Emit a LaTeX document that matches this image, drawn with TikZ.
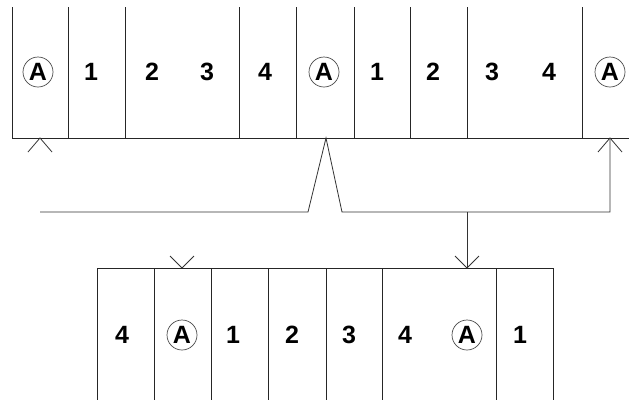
\documentclass[tikz,border=0pt]{standalone}
\usepackage{fontspec}
\setmainfont{Liberation Sans}
\newfontfamily\labfont{Liberation Sans Bold}
\usetikzlibrary{calc}
\begin{document}
\begin{tikzpicture}[x=1pt,y=-1pt,
  wall/.style={draw=black!85,line width=0.8pt},
  lab/.style={font=\labfont\fontsize{25}{25}\selectfont,inner sep=0pt,anchor=center},
  circA/.style={lab,circle,draw=black!70,line width=0.7pt,minimum size=30pt},
  conn/.style={draw=black!80,line width=0.8pt},
  chev/.style={draw=black!80,line width=0.8pt}]
\useasboundingbox (0,0) rectangle (629,400);
\fill[white] (0,0) rectangle (629,400);
% top row
\foreach \x in {12,68,125,239,296,354,410,467,582} \draw[wall] (\x,7) -- (\x,138);
\draw[wall] (12,138) -- (629,138);
\node[circA] (tA1) at (38,72) {A};
\node[lab] (t1a) at (91,72) {1};
\node[lab] (t2a) at (152,72) {2};
\node[lab] (t3a) at (207,72) {3};
\node[lab] (t4a) at (265,72) {4};
\node[circA] (tA2) at (324,72) {A};
\node[lab] (t1b) at (377,72) {1};
\node[lab] (t2b) at (433,72) {2};
\node[lab] (t3b) at (492,72) {3};
\node[lab] (t4b) at (549,72) {4};
\node[circA] (tA3) at (610,72) {A};
% bottom row
\foreach \x in {97,154,211,268,326,382,496,553} \draw[wall] (\x,268) -- (\x,400);
\draw[wall] (97,268) -- (553,268);
\node[lab] (b4a) at (122,335) {4};
\node[circA] (bA1) at (182,335) {A};
\node[lab] (b1a) at (233,335) {1};
\node[lab] (b2a) at (292,335) {2};
\node[lab] (b3a) at (349,335) {3};
\node[lab] (b4b) at (405,335) {4};
\node[circA] (bA2) at (467,335) {A};
\node[lab] (b1b) at (520,335) {1};
% connector coordinates
\coordinate (start) at (40,212);
\coordinate (spL) at (308,212);
\coordinate (apex) at (326,138);
\coordinate (spR) at (342,212);
\coordinate (turn) at (610,212);
\coordinate (upTip) at (610,138);
\coordinate (branch) at (467,212);
\coordinate (downTip) at (467,268);
\coordinate (tipL) at (40,138);
\coordinate (tipB) at (182,268);
\draw[conn] (start) -- (spL) -- (apex) -- (spR) -- (turn) -- (upTip);
\draw[conn] (branch) -- (downTip);
% chevrons
\draw[chev] ($(upTip)+(-12,14)$) -- (upTip) -- ($(upTip)+(12,14)$);
\draw[chev] ($(downTip)+(-12,-12)$) -- (downTip) -- ($(downTip)+(12,-12)$);
\draw[chev] ($(tipL)+(-12,14)$) -- (tipL) -- ($(tipL)+(12,14)$);
\draw[chev] ($(tipB)+(-12,-12)$) -- (tipB) -- ($(tipB)+(12,-12)$);
\end{tikzpicture}
\end{document}
